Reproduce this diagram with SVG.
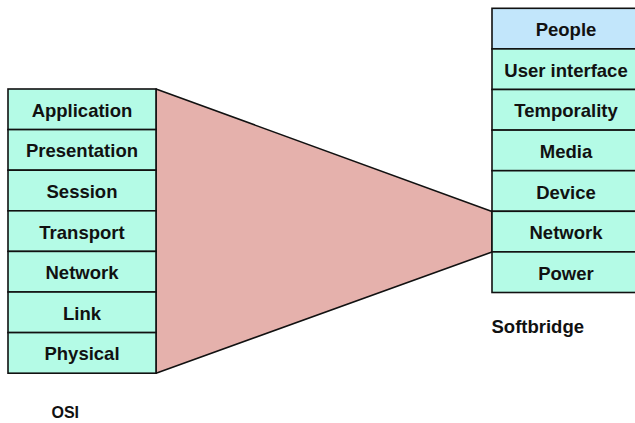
<svg xmlns="http://www.w3.org/2000/svg" width="635" height="423" viewBox="0 0 635 423">
<style>
.box{fill:#b4fbe6;stroke:#111;stroke-width:1.6}
.top{fill:#c2e6fb}
.lbl{font-family:"Liberation Sans",Arial,sans-serif;font-weight:bold;font-size:18.5px;fill:#111;text-anchor:middle}
.cap{font-family:"Liberation Sans",Arial,sans-serif;font-weight:bold;font-size:18.5px;fill:#111}
</style>
<rect width="635" height="423" fill="#fff"/>
<g id="connectors">
<polygon points="156,89 492,211.5 492,252 156,373.3" fill="#e5b1ac" stroke="#111" stroke-width="1.6" stroke-linejoin="round"/>
</g>
<g id="osi">
<g id="osi-application"><rect class="box" x="8" y="89" width="148" height="40.6"/><text class="lbl" x="82" y="116.8">Application</text></g>
<g id="osi-presentation"><rect class="box" x="8" y="129.6" width="148" height="40.6"/><text class="lbl" x="82" y="157.4">Presentation</text></g>
<g id="osi-session"><rect class="box" x="8" y="170.2" width="148" height="40.6"/><text class="lbl" x="82" y="198">Session</text></g>
<g id="osi-transport"><rect class="box" x="8" y="210.8" width="148" height="40.6"/><text class="lbl" x="82" y="238.6">Transport</text></g>
<g id="osi-network"><rect class="box" x="8" y="251.4" width="148" height="40.6"/><text class="lbl" x="82" y="279.2">Network</text></g>
<g id="osi-link"><rect class="box" x="8" y="292" width="148" height="40.6"/><text class="lbl" x="82" y="319.8">Link</text></g>
<g id="osi-physical"><rect class="box" x="8" y="332.6" width="148" height="40.6"/><text class="lbl" x="82" y="360.4">Physical</text></g>
<text id="osi-caption" class="cap" x="51.5" y="417.5" style="font-size:16px">OSI</text>
</g>
<g id="softbridge">
<g id="sb-people"><rect class="box top" x="492" y="8.3" width="148" height="40.6"/><text class="lbl" x="566" y="36.1">People</text></g>
<g id="sb-ui"><rect class="box" x="492" y="48.9" width="148" height="40.6"/><text class="lbl" x="566" y="76.7">User interface</text></g>
<g id="sb-temporality"><rect class="box" x="492" y="89.5" width="148" height="40.6"/><text class="lbl" x="566" y="117.3">Temporality</text></g>
<g id="sb-media"><rect class="box" x="492" y="130.1" width="148" height="40.6"/><text class="lbl" x="566" y="157.9">Media</text></g>
<g id="sb-device"><rect class="box" x="492" y="170.7" width="148" height="40.6"/><text class="lbl" x="566" y="198.5">Device</text></g>
<g id="sb-network"><rect class="box" x="492" y="211.3" width="148" height="40.6"/><text class="lbl" x="566" y="239.1">Network</text></g>
<g id="sb-power"><rect class="box" x="492" y="251.9" width="148" height="40.6"/><text class="lbl" x="566" y="279.7">Power</text></g>
<text id="sb-caption" class="cap" x="491.5" y="332.7">Softbridge</text>
</g>
</svg>
